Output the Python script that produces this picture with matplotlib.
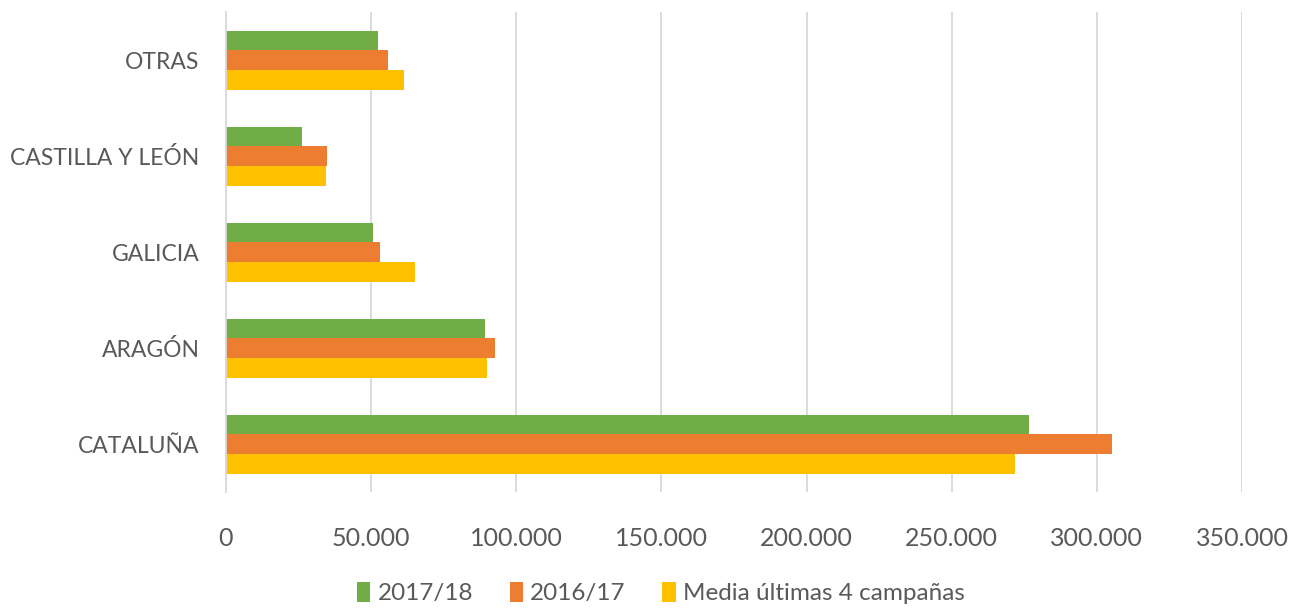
import numpy as np
import matplotlib.pyplot as plt
from matplotlib.ticker import FuncFormatter

plt.rcParams['font.family'] = ['Lato', 'DejaVu Sans']

# datos (de abajo a arriba)
regiones = ['CATALUÑA', 'ARAGÓN', 'GALICIA', 'CASTILLA Y LEÓN', 'OTRAS']
v_1718 = [276700, 89400, 50500, 26100, 52500]
v_1617 = [305200, 92700, 52900, 34800, 55900]
v_media = [271800, 90000, 65200, 34600, 61400]

series = ['2017/18', '2016/17', 'Media últimas 4 campañas']
colores = ['#70AD47', '#ED7D31', '#FFC000']
gris = '#595959'

fig = plt.figure(figsize=(13.06, 6.13), dpi=100)
ax = fig.add_axes([0.173, 0.197, 0.778, 0.783])

y = np.arange(len(regiones))
h = 0.205
ax.barh(y + h, v_1718, height=h, color=colores[0], label=series[0])
ax.barh(y, v_1617, height=h, color=colores[1], label=series[1])
ax.barh(y - h, v_media, height=h, color=colores[2], label=series[2])

ax.set_xlim(0, 350000)
ax.set_ylim(-0.5, len(regiones) - 0.5)
ax.set_xticks(np.arange(0, 350001, 50000))
ax.xaxis.set_major_formatter(FuncFormatter(lambda v, p: '0' if v == 0 else f'{int(v):,}'.replace(',', '.')))
ax.set_yticks(y)
ax.set_yticklabels(regiones)

ax.grid(axis='x', color='#D9D9D9', linewidth=1.3)
ax.set_axisbelow(True)
for s in ['top', 'right', 'bottom']:
    ax.spines[s].set_visible(False)
ax.spines['left'].set_color('#D9D9D9')
ax.spines['left'].set_linewidth(1.3)

ax.tick_params(axis='both', length=0, colors=gris)
ax.tick_params(axis='x', pad=25, labelsize=18)
ax.tick_params(axis='y', pad=19, labelsize=16.5)

fig.legend(loc='center', bbox_to_anchor=(0.506, 0.033), ncol=3, frameon=False,
           fontsize=17.5, labelcolor=gris, handlelength=0.55, handleheight=0.9,
           handletextpad=0.3, columnspacing=1.5)

plt.savefig('out.png')
